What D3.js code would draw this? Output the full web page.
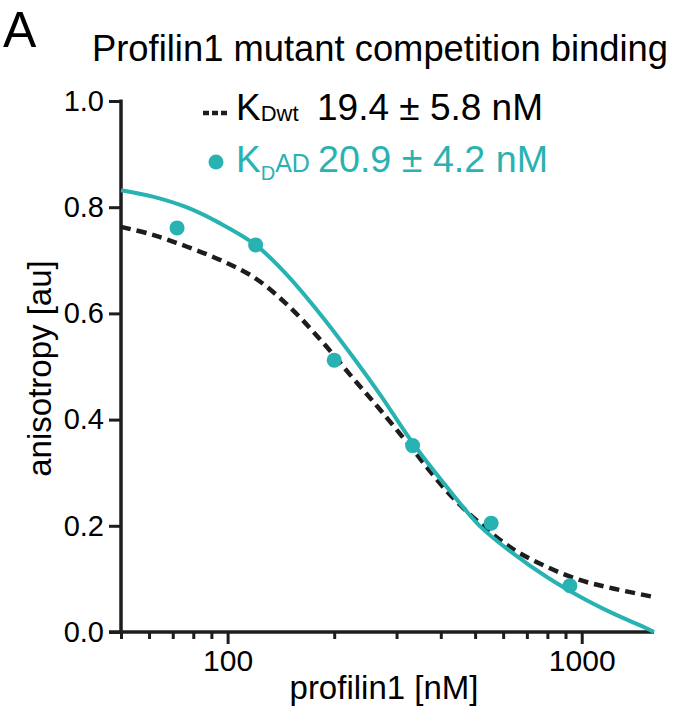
<!DOCTYPE html>
<html>
<head>
<meta charset="utf-8">
<script src="https://cdn.jsdelivr.net/npm/d3@7"></script>
<style>
  html, body { margin: 0; padding: 0; background: #fff; }
  svg { display: block; }
  text { font-family: "Liberation Sans", Arial, Helvetica, sans-serif; }
</style>
</head>
<body>
<svg id="chart" width="681" height="708"></svg>
<script>
// ---- data ----
const pointConc = [72, 120, 200, 333, 555, 926];              // profilin1 [nM]
const pointAniso = [0.761, 0.729, 0.512, 0.351, 0.205, 0.087]; // anisotropy [au]

const fitADConc  = [50, 61.5, 76.5, 95, 120, 146, 182, 226, 269, 334, 415, 515, 640, 795, 987, 1226, 1523, 1600];
const fitADAniso = [0.832, 0.820, 0.800, 0.770, 0.729, 0.675, 0.600, 0.518, 0.448, 0.355, 0.274, 0.200, 0.148, 0.104, 0.067, 0.035, 0.007, 0.0];

const fitWTConc  = [50, 61.5, 76.5, 95, 118, 146, 182, 226, 270, 334, 415, 515, 640, 795, 987, 1226, 1600];
const fitWTAniso = [0.763, 0.748, 0.726, 0.701, 0.669, 0.619, 0.552, 0.478, 0.418, 0.343, 0.266, 0.205, 0.156, 0.123, 0.098, 0.082, 0.066];

const xMajorTicks = [100, 1000];
const xMinorTicks = [50, 60, 70, 80, 90, 200, 300, 400, 500, 600, 700, 800, 900];
const yTicks = [0.0, 0.2, 0.4, 0.6, 0.8, 1.0];

const title = "Profilin1 mutant competition binding";
const panelLabel = "A";
const xLabel = "profilin1 [nM]";
const yLabel = "anisotropy [au]";

// ---- drawing ----
const teal = "#29b2b2";
const dark = "#1d1d1d";
const svg = d3.select("#chart");

const x = d3.scaleLog().domain([50, 1600]).range([121, 654]);
const y = d3.scaleLinear().domain([0, 1]).range([632, 101]);

// panel label & title
svg.append("text").attr("x", 3).attr("y", 47).attr("font-size", 50).attr("fill", "#000").text(panelLabel);
svg.append("text").attr("x", 92).attr("y", 61).attr("font-size", 36).attr("fill", "#000")
  .attr("textLength", 576).attr("lengthAdjust", "spacingAndGlyphs").text(title);

// axes
const gx = svg.append("g").attr("transform", `translate(0,${y(0)})`);
gx.call(d3.axisBottom(x).tickValues(xMinorTicks).tickSize(7).tickFormat(""));
gx.call(g => g.selectAll(".domain").remove());
const gxMajor = svg.append("g").attr("transform", `translate(0,${y(0)})`)
  .call(d3.axisBottom(x).tickValues(xMajorTicks).tickSize(12).tickPadding(6).tickFormat(d3.format("d")));
gxMajor.select(".domain").remove();
svg.selectAll("g line").attr("stroke", dark).attr("stroke-width", 3);
gxMajor.selectAll("text").attr("font-size", 30).attr("fill", "#000")
  .attr("font-family", "Liberation Sans, Arial, sans-serif");

// x axis line
svg.append("line").attr("x1", x(50) - 12).attr("x2", x(1600)).attr("y1", y(0)).attr("y2", y(0))
  .attr("stroke", dark).attr("stroke-width", 3.5);

const gy = svg.append("g").attr("transform", `translate(${x(50)},0)`)
  .call(d3.axisLeft(y).tickValues(yTicks).tickSize(12).tickPadding(5).tickFormat(d3.format(".1f")));
gy.select(".domain").remove();
gy.selectAll("line").attr("stroke", dark).attr("stroke-width", 3);
gy.selectAll("text").attr("font-size", 29).attr("fill", "#000")
  .attr("font-family", "Liberation Sans, Arial, sans-serif");
svg.append("line").attr("x1", x(50)).attr("x2", x(50)).attr("y1", y(1) - 1.5).attr("y2", y(0) + 1.5)
  .attr("stroke", dark).attr("stroke-width", 3.5);

// axis labels
svg.append("text").attr("x", 384).attr("y", 699).attr("text-anchor", "middle")
  .attr("font-size", 33).attr("fill", "#000").text(xLabel);
svg.append("text").attr("transform", `translate(51,${(y(0) + y(1)) / 2 + 2}) rotate(-90)`)
  .attr("text-anchor", "middle").attr("font-size", 33).attr("fill", "#000").text(yLabel);

// curves
const line = d3.line().x(d => x(d[0])).y(d => y(d[1])).curve(d3.curveCatmullRom.alpha(0.5));
svg.append("path").datum(fitWTConc.map((c, i) => [c, fitWTAniso[i]]))
  .attr("d", line).attr("fill", "none").attr("stroke", dark)
  .attr("stroke-width", 4.5).attr("stroke-dasharray", "10,6");
svg.append("path").datum(fitADConc.map((c, i) => [c, fitADAniso[i]]))
  .attr("d", line).attr("fill", "none").attr("stroke", teal).attr("stroke-width", 4);

// points
svg.selectAll("circle.pt").data(pointConc.map((c, i) => [c, pointAniso[i]])).enter()
  .append("circle").attr("class", "pt")
  .attr("cx", d => x(d[0])).attr("cy", d => y(d[1])).attr("r", 7.5).attr("fill", teal);

// legend
svg.append("line").attr("x1", 203).attr("x2", 229).attr("y1", 113).attr("y2", 113)
  .attr("stroke", dark).attr("stroke-width", 4.5).attr("stroke-dasharray", "6,3");
const l1 = svg.append("text").attr("x", 236).attr("y", 120).attr("font-size", 37).attr("fill", "#000");
l1.append("tspan").text("K");
l1.append("tspan").attr("font-size", 22).attr("dy", 1).text("Dwt");
l1.append("tspan").attr("x", 317).attr("dy", -1).attr("textLength", 226).attr("lengthAdjust", "spacingAndGlyphs").text("19.4 ± 5.8 nM");

svg.append("circle").attr("cx", 216).attr("cy", 162).attr("r", 7.5).attr("fill", teal);
const l2 = svg.append("text").attr("x", 236).attr("y", 172).attr("font-size", 37).attr("fill", teal);
l2.append("tspan").text("K");
l2.append("tspan").attr("font-size", 20).attr("dy", 8).text("D");
l2.append("tspan").attr("font-size", 25).attr("dy", -8).text("AD");
l2.append("tspan").attr("x", 318).attr("textLength", 230).attr("lengthAdjust", "spacingAndGlyphs").text("20.9 ± 4.2 nM");
</script>
</body>
</html>
